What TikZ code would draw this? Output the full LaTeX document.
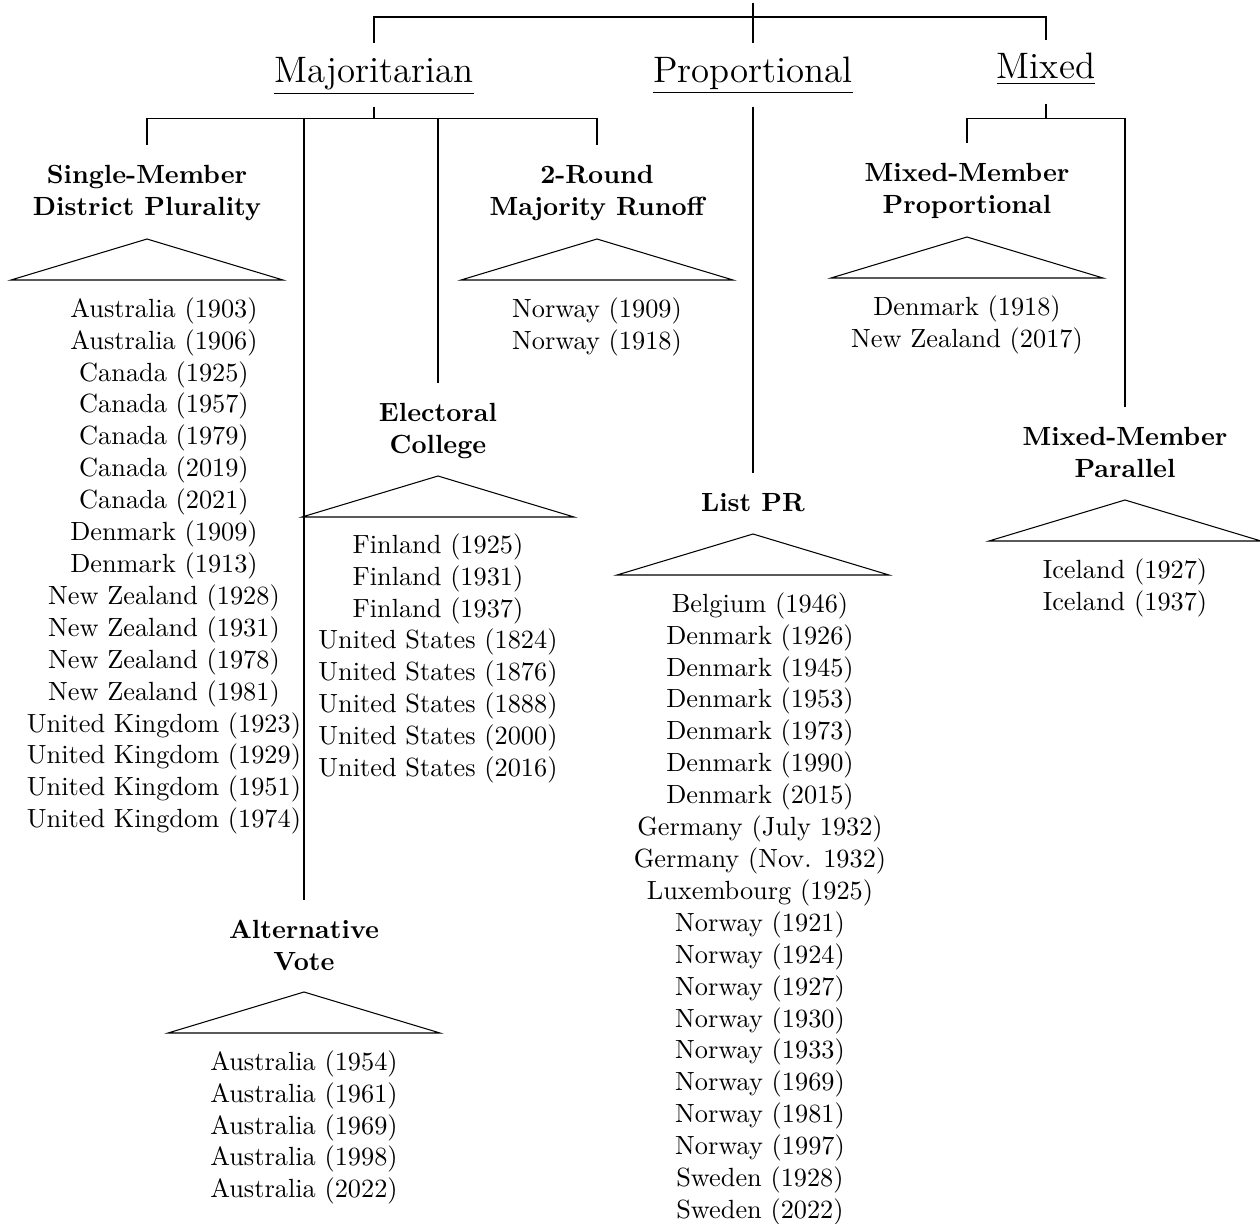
\documentclass[tikz,border=0pt]{standalone}
\begin{document}
\begin{tikzpicture}[x=0.3802pt,y=-0.3802pt,
  head/.style={font=\fontsize{14}{17}\selectfont, inner xsep=0pt, inner ysep=5.7pt, text height=8.8pt, text depth=3.5pt, anchor=base},
  cat/.style={font=\fontsize{10}{12.13}\selectfont\bfseries, align=center, anchor=north, inner xsep=0pt, inner ysep=7.6pt},
  lst/.style={font=\fontsize{10}{12.13}\selectfont, align=center, anchor=north, inner sep=0pt},
  roofline/.style={line width=0.4pt}]
\useasboundingbox (0,0) rectangle (1260,1224);
\newcommand\roofshape[2]{\draw[roofline] (#1-136,#2+41) -- (#1,#2) -- (#1+136,#2+41) -- cycle;}

% top level
\coordinate (root) at (753,3);
\node[head] (maj) at (374,82) {\underline{Majoritarian}};
\node[head] (prop) at (753,82) {\underline{Proportional}};
\node[head] (mix) at (1046,79) {\underline{Mixed}};
\draw (root) -- (prop.north);
\draw (root) -- ++(0,14) coordinate (rbar);
\draw (rbar) -| (maj.north);
\draw (rbar) -| (mix.north);

% categories
\node[cat] (smdp) at (147,145) {Single-Member\\District Plurality};
\node[cat] (tworound) at (597,145) {2-Round\\Majority Runoff};
\node[cat] (ec) at (438,383) {Electoral\\College};
\node[cat] (av) at (304,900) {Alternative\\Vote};
\node[cat] (lpr) at (753,473) {List PR};
\node[cat] (mmp) at (967,143) {Mixed-Member\\Proportional};
\node[cat] (mmpar) at (1125,407) {Mixed-Member\\Parallel};

\draw (maj.south) -- ++(0,12) coordinate (mbar);
\draw (mbar) -| (smdp.north);
\draw (mbar) -| (tworound.north);
\draw (mbar) -| (ec.north);
\draw (mbar) -| (av.north);
\draw (prop.south) -- (lpr.north);
\draw (mix.south) -- ++(0,15) coordinate (xbar);
\draw (xbar) -| (mmp.north);
\draw (xbar) -| (mmpar.north);

% roofs
\roofshape{147}{239}
\roofshape{597}{239}
\roofshape{438}{476}
\roofshape{304}{992}
\roofshape{753}{534}
\roofshape{967}{237}
\roofshape{1125}{500}

% lists
\node[lst] (l1) at (164,297) {Australia (1903)\\Australia (1906)\\Canada (1925)\\Canada (1957)\\Canada (1979)\\Canada (2019)\\Canada (2021)\\Denmark (1909)\\Denmark (1913)\\New Zealand (1928)\\New Zealand (1931)\\New Zealand (1978)\\New Zealand (1981)\\United Kingdom (1923)\\United Kingdom (1929)\\United Kingdom (1951)\\United Kingdom (1974)};
\node[lst] (l2) at (597,297) {Norway (1909)\\Norway (1918)};
\node[lst] (l3) at (438,533) {Finland (1925)\\Finland (1931)\\Finland (1937)\\United States (1824)\\United States (1876)\\United States (1888)\\United States (2000)\\United States (2016)};
\node[lst] (l4) at (304,1050) {Australia (1954)\\Australia (1961)\\Australia (1969)\\Australia (1998)\\Australia (2022)};
\node[lst] (l5) at (760,592) {Belgium (1946)\\Denmark (1926)\\Denmark (1945)\\Denmark (1953)\\Denmark (1973)\\Denmark (1990)\\Denmark (2015)\\Germany (July 1932)\\Germany (Nov. 1932)\\Luxembourg (1925)\\Norway (1921)\\Norway (1924)\\Norway (1927)\\Norway (1930)\\Norway (1933)\\Norway (1969)\\Norway (1981)\\Norway (1997)\\Sweden (1928)\\Sweden (2022)};
\node[lst] (l6) at (967,295) {Denmark (1918)\\New Zealand (2017)};
\node[lst] (l7) at (1125,558) {Iceland (1927)\\Iceland (1937)};
\end{tikzpicture}
\end{document}
